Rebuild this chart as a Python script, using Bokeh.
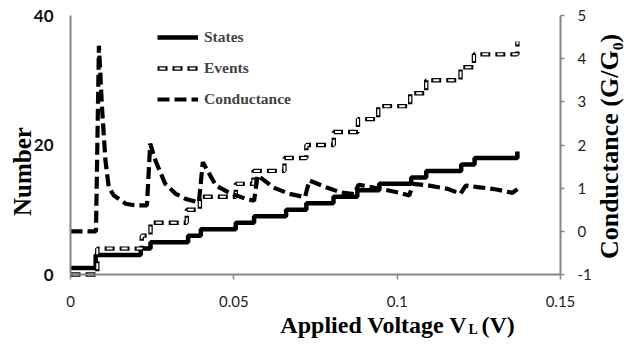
import math
from bokeh.plotting import figure
from bokeh.models import Range1d, LinearAxis, FixedTicker, Legend, LegendItem
from bokeh.core.properties import value
from bokeh.embed import file_html
from bokeh.resources import INLINE

# ---- data ----
states_v = [0, 0.0077, 0.0215, 0.0245, 0.0360, 0.0399, 0.0506, 0.0562, 0.0660, 0.0722,
            0.0805, 0.0878, 0.0945, 0.1043, 0.1089, 0.1196, 0.1237, 0.1368]
states_n = [1, 3, 4, 5, 6, 7, 8, 9, 10, 11, 12, 13, 14, 15, 16, 17, 18, 19]

events_v = [0, 0.0082, 0.0218, 0.0245, 0.0356, 0.0396, 0.0506, 0.0560, 0.0655, 0.0722,
            0.0806, 0.0880, 0.0942, 0.1040, 0.1089, 0.1194, 0.1235, 0.1368]
events_n = [0, 4, 6, 8, 10, 12, 14, 16, 18, 20, 22, 24, 26, 28, 30, 32, 34, 36]

cond_v = [0, 0.0078, 0.0087, 0.0097, 0.0101, 0.0107, 0.0117, 0.0133, 0.0169, 0.0199, 0.0234,
          0.0244, 0.0260, 0.0290, 0.0322, 0.0353, 0.0393,
          0.0405, 0.0445, 0.0485, 0.0537, 0.0562,
          0.0573, 0.0620, 0.0669, 0.0718,
          0.0731, 0.0782, 0.0828, 0.0868,
          0.0882, 0.0951, 0.1003, 0.1037,
          0.1049, 0.1098, 0.1156, 0.1194,
          0.1210, 0.1252, 0.1304, 0.1353, 0.1368]
cond_g = [0, 0, 4.3, 2.8, 2.33, 1.64, 1.02, 0.83, 0.64, 0.6, 0.6,
          2.03, 1.64, 1.1, 0.87, 0.75, 0.67,
          1.6, 1.06, 0.9, 0.75, 0.71,
          1.3, 1.02, 0.87, 0.79,
          1.18, 1.02, 0.9, 0.86,
          1.08, 0.98, 0.9, 0.83,
          1.1, 1.06, 0.98, 0.87,
          1.06, 1.02, 0.97, 0.89, 0.98]

x_ticks = [0, 0.05, 0.1, 0.15]
x_tick_labels = ["0", "0.05", "0.1", "0.15"]
left_ticks = [0, 20, 40]
left_tick_labels = ["0", "20", "40"]
right_ticks = [-1, 0, 1, 2, 3, 4, 5]
right_tick_labels = ["-1", "0", "1", "2", "3", "4", "5"]

X_LO, X_HI = 0, 0.15
N_LO, N_HI = 0, 40
G_LO, G_HI = -1, 5

# ---- layout (pixels) ----
W, H = 624, 343
PX_L, PX_R, PX_T, PX_B = 70, 560, 15, 274   # where the data area sits

AXIS_GRAY = "#868686"
SERIF = "Liberation Serif"
SANS = "Lato"

sx = (PX_R - PX_L) / (X_HI - X_LO)
sn = (PX_B - PX_T) / (N_HI - N_LO)
sg = (PX_B - PX_T) / (G_HI - G_LO)
x_range = Range1d(X_LO - PX_L / sx, X_HI + (W - PX_R) / sx)
y_range = Range1d(N_LO - (H - PX_B) / sn, N_HI + PX_T / sn)
g_range = Range1d(G_LO - (H - PX_B) / sg, G_HI + PX_T / sg)


def dx(px):
    return x_range.start + px / sx


def dy(py):
    return y_range.end - py / sn


p = figure(width=W, height=H, x_range=x_range, y_range=y_range,
           output_backend="svg", toolbar_location=None, min_border=0)
p.title.visible = False
p.outline_line_color = None
p.grid.visible = False
p.extra_y_ranges = {"g": g_range}

# x axis
xa = p.xaxis[0]
xa.fixed_location = N_LO
xa.bounds = (X_LO, X_HI)
xa.ticker = FixedTicker(ticks=x_ticks)
xa.major_label_overrides = dict(zip(x_ticks, x_tick_labels))
xa.axis_line_color = AXIS_GRAY
xa.axis_line_width = 2
xa.major_tick_line_color = AXIS_GRAY
xa.major_tick_line_width = 1.5
xa.major_tick_out = 5
xa.major_tick_in = 0
xa.minor_tick_line_color = None
xa.major_label_text_font = SANS
xa.major_label_text_font_size = "15px"
xa.major_label_text_color = "#222222"
xa.major_label_standoff = 16

# left axis
ya = p.yaxis[0]
ya.fixed_location = X_LO
ya.bounds = (N_LO, N_HI)
ya.ticker = FixedTicker(ticks=left_ticks)
ya.major_label_overrides = dict(zip(left_ticks, left_tick_labels))
ya.axis_line_color = AXIS_GRAY
ya.axis_line_width = 2
ya.major_tick_line_color = None
ya.major_tick_out = 0
ya.major_tick_in = 0
ya.minor_tick_line_color = None
ya.major_label_text_font = SANS
ya.major_label_text_font_style = "bold"
ya.major_label_text_font_size = "17px"
ya.major_label_text_color = "#111111"
ya.major_label_standoff = 17

# right axis
ra = LinearAxis(y_range_name="g", ticker=FixedTicker(ticks=right_ticks),
                fixed_location=X_HI, bounds=(G_LO, G_HI))
ra.major_label_overrides = dict(zip(right_ticks, right_tick_labels))
ra.axis_line_color = AXIS_GRAY
ra.axis_line_width = 2
ra.major_tick_line_color = AXIS_GRAY
ra.major_tick_line_width = 1.5
ra.major_tick_out = 4
ra.major_tick_in = 0
ra.minor_tick_line_color = None
ra.major_label_text_font = SANS
ra.major_label_text_font_size = "15px"
ra.major_label_text_color = "#222222"
ra.major_label_standoff = 13
p.add_layout(ra, "right")

# series
r_states = p.step(states_v, states_n, mode="after", line_color="black", line_width=4.5)
r_ev_out = p.step(events_v, events_n, mode="after", line_color="black", line_width=4.4,
                  line_dash="10 5")
r_ev_in = p.step(events_v, events_n, mode="after", line_color="white", line_width=2.0,
                 line_dash="0 2 6 7")
r_cond = p.line(cond_v, cond_g, y_range_name="g", line_color="black", line_width=4.2,
                line_dash="12 5")

legend = Legend(items=[
    LegendItem(label="States", renderers=[r_states]),
    LegendItem(label="Events", renderers=[r_ev_out, r_ev_in]),
    LegendItem(label="Conductance", renderers=[r_cond]),
], location=(157, H - 109), glyph_width=41, glyph_height=20, label_height=20, spacing=11,
   padding=0, margin=0, label_standoff=6, border_line_alpha=0, background_fill_alpha=0,
   label_text_font=SERIF, label_text_font_style="bold", label_text_font_size="15.5px")
p.add_layout(legend)

# axis titles
tkw = dict(text_font=value(SERIF), text_font_style="bold", text_color="black",
           text_baseline="alphabetic")
p.text(x=[dx(467)], y=[dy(324.5)], text=["Applied Voltage V"], text_align="right",
       text_font_size="24px", **tkw)
p.text(x=[dx(468)], y=[dy(328.5)], text=["L"], text_align="left",
       text_font_size="14px", **tkw)
p.text(x=[dx(481)], y=[dy(324.5)], text=["(V)"], text_align="left",
       text_font_size="24px", **tkw)
p.text(x=[dx(22)], y=[dy(171)], text=["Number"], angle=math.pi / 2, text_align="center",
       text_font_size="25px", **tkw)
p.text(x=[dx(609)], y=[dy(146)], text=["Conductance (G/G\u2080)"], angle=math.pi / 2,
       text_align="center", text_font_size="26px", **tkw)

open("out.html", "w").write(file_html(p, INLINE))
